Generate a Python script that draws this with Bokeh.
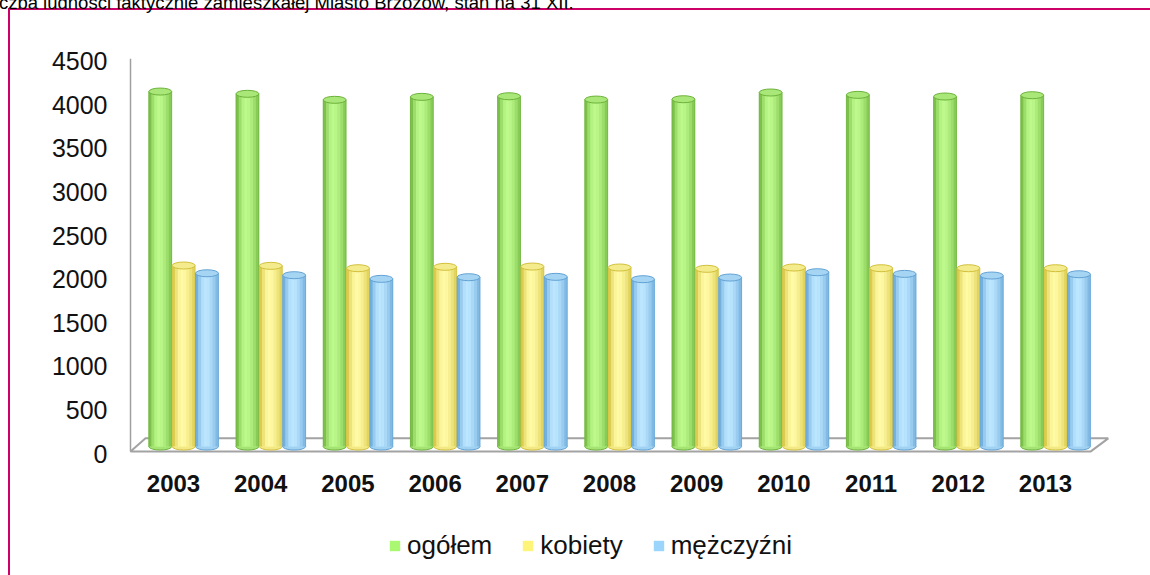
from bokeh.plotting import figure
from bokeh.models import FixedTicker, Range1d, Legend, LegendItem
from bokeh.core.properties import value
from bokeh.embed import file_html
from bokeh.resources import INLINE

# ---------------- data ----------------
title_text = "Liczba ludności faktycznie zamieszkałej Miasto Brzozów, stan na 31 XII."
years = ["2003", "2004", "2005", "2006", "2007", "2008", "2009", "2010", "2011", "2012", "2013"]
ogolem = [4071, 4045, 3976, 4010, 4017, 3979, 3983, 4060, 4033, 4014, 4029]
kobiety = [2076, 2072, 2045, 2061, 2064, 2053, 2038, 2053, 2045, 2045, 2045]
mezczyzni = [1987, 1965, 1923, 1942, 1946, 1919, 1938, 1999, 1980, 1961, 1976]
series_names = ["ogółem", "kobiety", "mężczyźni"]
y_ticks = [0, 500, 1000, 1500, 2000, 2500, 3000, 3500, 4000, 4500]

# ---------------- styles ----------------
FONT = "Liberation Sans"
PINK = "#cc0066"
M = 65  # figure shifted up so the title is cut at the page top like in the reference
W, H = 1150, 575 + M
legend_cols = ["#aaf772", "#fff47a", "#9bd5fb"]
lights = ["#bdf98c", "#fffaa6", "#bce6ff"]
darks = ["#6db23c", "#d2c03c", "#62a2d4"]
offsets = [-0.152, 0.116, 0.384]
bw = 0.262
profile = [0.2, 0.6, 0.9, 1.0, 0.95, 0.8, 0.6, 0.35]
YMIN, YMAX = -1399, 4530      # frame runs down to the bottom edge of the page
BAR_SHIFT = 80                # bars stand slightly behind the front edge of the floor
LABEL_Y = -339                # year labels sit below the floor


def mix(c1, c2, f):
    a = [int(c1[i:i + 2], 16) for i in (1, 3, 5)]
    b = [int(c2[i:i + 2], 16) for i in (1, 3, 5)]
    return "#%02x%02x%02x" % tuple(round(a[k] + (b[k] - a[k]) * f) for k in range(3))


bg = ("linear-gradient({c},{c}) 8px {t}px / 2px 100% no-repeat, "
      "linear-gradient({c},{c}) 8px {t}px / 100% 2px no-repeat").format(c=PINK, t=8 + M)

p = figure(width=W, height=H, output_backend="svg", toolbar_location=None,
           x_range=Range1d(-0.516, 10.803), y_range=Range1d(YMIN, YMAX),
           min_border_left=128, min_border_right=35, min_border_top=58 + M, min_border_bottom=0,
           background_fill_color=None, border_fill_color=None,
           styles={"margin-top": "-%dpx" % M, "background": bg})
p.outline_line_color = None
p.grid.visible = False
p.extra_y_ranges = {"bars": Range1d(YMIN - BAR_SHIFT, YMAX - BAR_SHIFT)}

# title (cut at the top edge, as in the reference)
p.title.text = title_text
p.title.align = "left"
p.title.offset = -144
p.title.vertical_align = "bottom"
p.title.standoff = 92
p.title.text_font = FONT
p.title.text_font_size = "18.5px"
p.title.text_font_style = "normal"
p.title.text_color = "#000000"

# 3D wall edge and floor
p.segment(x0=[-0.493], y0=[22], x1=[-0.493], y1=[4530], line_color="#a0a0a0", line_width=1.5)
p.patch(x=[-0.493, -0.321, 10.72, 10.516], y=[22, 174, 174, 22],
        fill_color="white", line_color="#a3a3a3", line_width=2)

xs = list(range(len(years)))
series = [ogolem, kobiety, mezczyzni]
renderers = []
for s, vals in enumerate(series):
    cx = [x + offsets[s] for x in xs]
    mid = mix(darks[s], lights[s], 0.7)
    p.ellipse(x=cx, y=[0] * len(cx), width=bw, height=7, height_units="screen",
              fill_color=mid, line_color=darks[s], line_width=1, y_range_name="bars")
    base = p.vbar(x=cx, top=vals, bottom=0, width=bw, fill_color=legend_cols[s],
                  line_color=None, y_range_name="bars")
    renderers.append(base)
    n = len(profile)
    for k, f in enumerate(profile):
        sx = [c - bw / 2 + (k + 0.5) * bw / n for c in cx]
        p.vbar(x=sx, top=vals, bottom=0, width=bw / n + 0.002,
               fill_color=mix(darks[s], lights[s], f), line_color=None, y_range_name="bars")
    p.segment(x0=[c - bw / 2 for c in cx], y0=[0] * len(cx), x1=[c - bw / 2 for c in cx], y1=vals,
              line_color=darks[s], line_width=1, line_alpha=0.8, y_range_name="bars")
    p.segment(x0=[c + bw / 2 for c in cx], y0=[0] * len(cx), x1=[c + bw / 2 for c in cx], y1=vals,
              line_color=darks[s], line_width=1, line_alpha=0.8, y_range_name="bars")
    p.ellipse(x=cx, y=vals, width=bw, height=7, height_units="screen",
              fill_color=mix(darks[s], lights[s], 0.75), line_color=darks[s], line_width=1,
              y_range_name="bars")

# year labels under the floor
p.text(x=xs, y=[LABEL_Y] * len(xs), text=years, text_align="center", text_baseline="middle",
       text_font=value(FONT), text_font_style="bold", text_font_size="24px", text_color="#111111")

# y axis
p.yaxis.ticker = FixedTicker(ticks=y_ticks)
p.yaxis.axis_line_color = None
p.yaxis.major_tick_line_color = None
p.yaxis.minor_tick_line_color = None
p.yaxis.major_tick_out = 0
p.yaxis.major_tick_in = 0
p.yaxis.major_label_standoff = 21
p.yaxis.major_label_text_font = FONT
p.yaxis.major_label_text_font_size = "25px"
p.yaxis.major_label_text_color = "#111111"
p.xaxis.visible = False

legend = Legend(items=[LegendItem(label=series_names[i], renderers=[renderers[i]]) for i in range(3)],
                orientation="horizontal", location=(260, 14))
legend.glyph_width = 13
legend.glyph_height = 13
legend.label_standoff = 6
legend.spacing = 29
legend.padding = 0
legend.margin = 0
legend.border_line_color = None
legend.background_fill_alpha = 0
legend.label_text_font = FONT
legend.label_text_font_size = "26px"
legend.label_text_color = "#111111"
p.add_layout(legend, "center")

open("out.html", "w").write(file_html(p, INLINE))
